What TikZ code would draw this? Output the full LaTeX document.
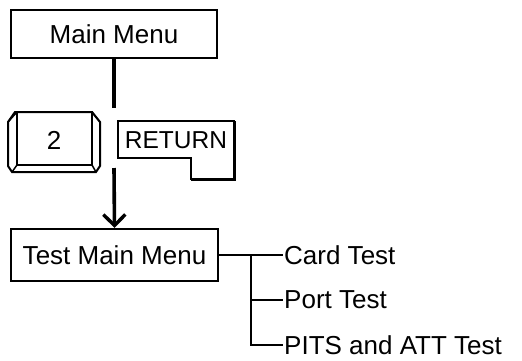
\documentclass[tikz,border=0pt]{standalone}
\usepackage{fontspec}
\setmainfont{Liberation Sans}
\usetikzlibrary{arrows.meta}
\begin{document}
\begin{tikzpicture}[x=1pt,y=-1pt,
  every node/.style={font=\fontsize{26}{31}\selectfont},
  menubox/.style={draw,line width=2.2pt,rectangle,inner sep=0pt},
  keyline/.style={line width=2pt,line join=miter},
  conn/.style={line width=3.6pt},
  branch/.style={line width=2pt},
  item/.style={anchor=west,inner sep=1pt}]
\useasboundingbox (0,0) rectangle (522,360);
% Main menu
\node[menubox,minimum width=206pt,minimum height=48pt] (mm) at (114,34) {Main Menu};
% key 2
\node (k2) at (54,140) {2};
\draw[keyline] (15,112) -- (92,112) -- (100,122) -- (100,166) -- (96,172) -- (12,172) -- (8,166) -- (8,122) -- cycle;
\draw[line width=1.5pt] (17,112) rectangle (92,165);
\draw[line width=1.5pt] (17,165) -- (12,172) (92,165) -- (96,172) (92,112) -- (100,122) (17,112) -- (8,122);
% RETURN key
\node[font=\fontsize{24.5}{29}\selectfont] (ret) at (176,140) {RETURN};
\draw[keyline] (118,121) -- (234,121) -- (234,179) -- (191,179) -- (191,158) -- (118,158) -- cycle;
\draw[line width=3pt] (191,179) -- (234,179) -- (234,121);
% Test main menu
\node[menubox,minimum width=207pt,minimum height=52pt] (tmm) at (114.5,255) {Test Main Menu};
% connectors
\coordinate (gapTop) at (114,108);
\coordinate (gapBot) at (114,168);
\draw[conn] (mm.south) -- (gapTop);
\draw[conn,-{Straight Barb[length=11pt,width=22pt,line width=3.4pt]}] (gapBot) -- (tmm.north);
% subitems
\node[item] (card) at (283,255) {Card Test};
\node[item] (port) at (283,300) {Port Test};
\node[item] (pits) at (283,345) {PITS and ATT Test};
\coordinate (br) at (251,255);
\draw[branch] (tmm.east) -- (card.west);
\draw[branch] (br) |- (port.west);
\draw[branch] (br) |- (pits.west);
\end{tikzpicture}
\end{document}
